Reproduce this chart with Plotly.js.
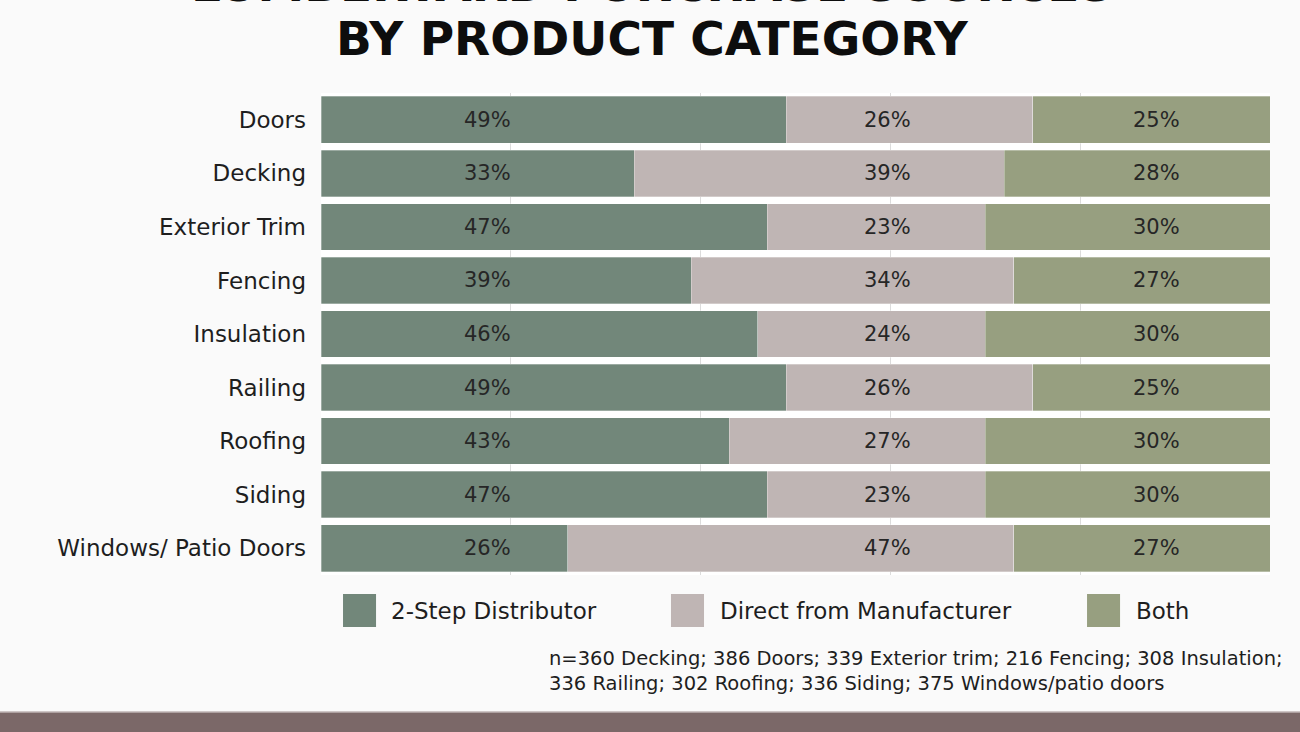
<!DOCTYPE html>
<html>
<head>
<meta charset="utf-8">
<script src="https://cdn.plot.ly/plotly-3.0.1.min.js"></script>
<style>html,body{margin:0;padding:0;background:#fafafa;}#chart{width:1300px;height:732px;}</style>
</head>
<body>
<div id="chart"></div>
<script>
var categories = ["Doors", "Decking", "Exterior Trim", "Fencing", "Insulation", "Railing", "Roofing", "Siding", "Windows/ Patio Doors"];
var seriesNames = ["2-Step Distributor", "Direct from Manufacturer", "Both"];
var twoStep = [49, 33, 47, 39, 46, 49, 43, 47, 26];
var direct = [26, 39, 23, 34, 24, 26, 27, 23, 47];
var both = [25, 28, 30, 27, 30, 25, 30, 30, 27];
var colors = ["#72877a", "#bfb5b4", "#979f80"];
var footnote = "n=360 Decking; 386 Doors; 339 Exterior trim; 216 Fencing; 308 Insulation;<br>336 Railing; 302 Roofing; 336 Siding; 375 Windows/patio doors";
var titleTop = "LUMBERYARD PURCHASE SOURCES";
var titleBottom = "BY PRODUCT CATEGORY";

var series = [twoStep, direct, both];
var font = "DejaVu Sans, Noto Sans, sans-serif";
var titleFont = "DejaVu Sans, Open Sans, sans-serif";

var traces = series.map(function (vals, s) {
  return {
    type: "bar",
    orientation: "h",
    name: seriesNames[s],
    x: vals,
    y: categories,
    marker: {color: colors[s], line: {color: "rgba(255,255,255,0.6)", width: 0.5}},
    hoverinfo: "x+y+name"
  };
});

// fixed label columns (paper x) as in the reference
var labelCols = [0.175, 0.597, 0.880];
var annotations = [];
series.forEach(function (vals, s) {
  vals.forEach(function (v, i) {
    annotations.push({
      xref: "paper", yref: "y", x: labelCols[s], y: categories[i],
      xanchor: "center", yanchor: "middle",
      text: v + "%", showarrow: false,
      font: {family: font, size: 21, color: "#262626"}
    });
  });
});

// title
annotations.push({xref: "paper", yref: "paper", x: 0.349, y: 1.1125, xanchor: "center", yanchor: "middle",
  text: "<b>" + titleBottom + "</b>", showarrow: false,
  font: {family: titleFont, size: 47, color: "#0d0d0d"}});
annotations.push({xref: "paper", yref: "paper", x: 0.349, y: 1.2245, xanchor: "center", yanchor: "middle",
  text: "<b>" + titleTop + "</b>", showarrow: false,
  font: {family: titleFont, size: 47, color: "#0d0d0d"}});

// legend (manual)
var legX = [0.0232, 0.3688, 0.8072];
var legTextX = [0.0717, 0.4183, 0.8567];
var shapes = [];
seriesNames.forEach(function (n, s) {
  shapes.push({type: "rect", xref: "paper", yref: "paper",
    x0: legX[s], x1: legX[s] + 0.0348, y0: -0.1079, y1: -0.0394,
    fillcolor: colors[s], line: {width: 0}});
  annotations.push({xref: "paper", yref: "paper", x: legTextX[s], y: -0.0747,
    xanchor: "left", yanchor: "middle", text: n, showarrow: false,
    font: {family: font, size: 23, color: "#1e1e1e"}});
});

// footnote
annotations.push({xref: "paper", yref: "paper", x: 0.2381, y: -0.146, xanchor: "left", yanchor: "top",
  align: "left", text: footnote, showarrow: false,
  font: {family: font, size: 19.5, color: "#1e1e1e"}});

// bottom band
shapes.push({type: "rect", xref: "paper", yref: "paper", x0: -0.4, x1: 1.1, y0: -0.36, y1: -0.2842,
  fillcolor: "#7b6868", line: {width: 0}});
shapes.push({type: "line", xref: "paper", yref: "paper", x0: -0.4, x1: 1.1, y0: -0.2842, y1: -0.2842,
  line: {color: "#bfb5b4", width: 1.5}});

var layout = {
  width: 1300, height: 732,
  margin: {l: 321, r: 30, t: 93, b: 157, pad: 0},
  paper_bgcolor: "#fafafa",
  plot_bgcolor: "#ffffff",
  barmode: "stack",
  bargap: 0.13,
  showlegend: false,
  xaxis: {range: [0, 100], dtick: 20, showticklabels: false, showgrid: true,
    gridcolor: "#dcdcdc", gridwidth: 1, zeroline: false, fixedrange: true},
  yaxis: {autorange: "reversed", showgrid: false, zeroline: false, ticks: "",
    ticklabelstandoff: 14,
    tickfont: {family: font, size: 23, color: "#1e1e1e"}, fixedrange: true},
  annotations: annotations,
  shapes: shapes
};

Plotly.newPlot("chart", traces, layout, {displayModeBar: false, staticPlot: true});
</script>
</body>
</html>
